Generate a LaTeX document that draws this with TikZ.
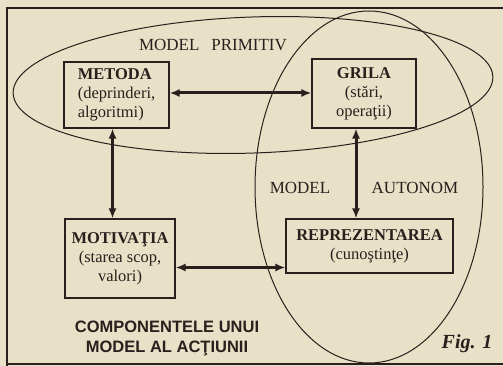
\documentclass[tikz,border=0pt]{standalone}
\usepackage{fontspec}
\setmainfont{Liberation Serif}
\setsansfont{Liberation Sans}
\usetikzlibrary{arrows.meta}

\definecolor{paper}{RGB}{233,224,200}
\definecolor{ink}{RGB}{40,32,28}

\begin{document}
\begin{tikzpicture}[x=1pt, y=-1pt, ink,
    box/.style={draw=ink, line width=1.1pt, inner sep=2pt,
                font=\fontsize{16.5}{19}\selectfont, align=center},
    link/.style={line width=3pt, {Latex[length=10pt,width=8pt]}-{Latex[length=10pt,width=8pt]}},
    oval/.style={draw=ink, line width=1pt},
    label/.style={font=\fontsize{17}{19}\selectfont}]

    \fill[paper] (0,0) rectangle (503,366);
    \useasboundingbox (0,0) rectangle (503,366);

    % frame
    \draw[line width=1.8pt] (7,366) -- (7,8) -- (503,8);
    \draw[line width=1.8pt] (7,364) -- (503,364);

    % the two models
    \draw[oval, rotate around={2:(253,85)}] (253,85) ellipse [x radius=240, y radius=68];
    \draw[oval] (369,187) ellipse [x radius=114, y radius=176];

    \node[box, minimum width=105pt, minimum height=66pt, align=left] (metoda) at (116.5,95)
        {\textbf{METODA}\\(deprinderi,\\algoritmi)};
    \node[box, minimum width=104pt, minimum height=69pt] (grila) at (364,93.5)
        {\textbf{GRILA}\\(stări,\\operaţii)};
    \node[box, minimum width=110pt, minimum height=79pt] (motiv) at (120,258.5)
        {\textbf{MOTIVAŢIA}\\(starea scop,\\valori)};
    \node[box, minimum width=167pt, minimum height=54pt] (reprez) at (369.5,246)
        {\textbf{REPREZENTAREA}\\(cunoştinţe)};

    \draw[link] ([yshift=2pt]metoda.east) -- ([yshift=2pt]metoda.east -| grila.west);
    \draw[link] ([xshift=-4pt]metoda.south) -- ([xshift=-4pt]metoda.south |- motiv.north);
    \draw[link] ([xshift=-8pt]grila.south) -- ([xshift=-8pt]grila.south |- reprez.north);
    \draw[link] ([yshift=-9pt]motiv.east) -- ([yshift=-9pt]motiv.east -| reprez.west);

    \node[label] (primitiv) at (213,45) {MODEL\hspace{0.7em}PRIMITIV};
    \node[label] (model) at (300,188) {MODEL};
    \node[label] (autonom) at (415,188) {AUTONOM};

    \node[font=\sffamily\bfseries\fontsize{16.5}{20}\selectfont, align=center] (titlu) at (167,338)
        {COMPONENTELE UNUI\\MODEL AL ACŢIUNII};
    \node[font=\bfseries\itshape\fontsize{20}{22}\selectfont] (fig) at (467,344) {Fig. 1};

\end{tikzpicture}
\end{document}
